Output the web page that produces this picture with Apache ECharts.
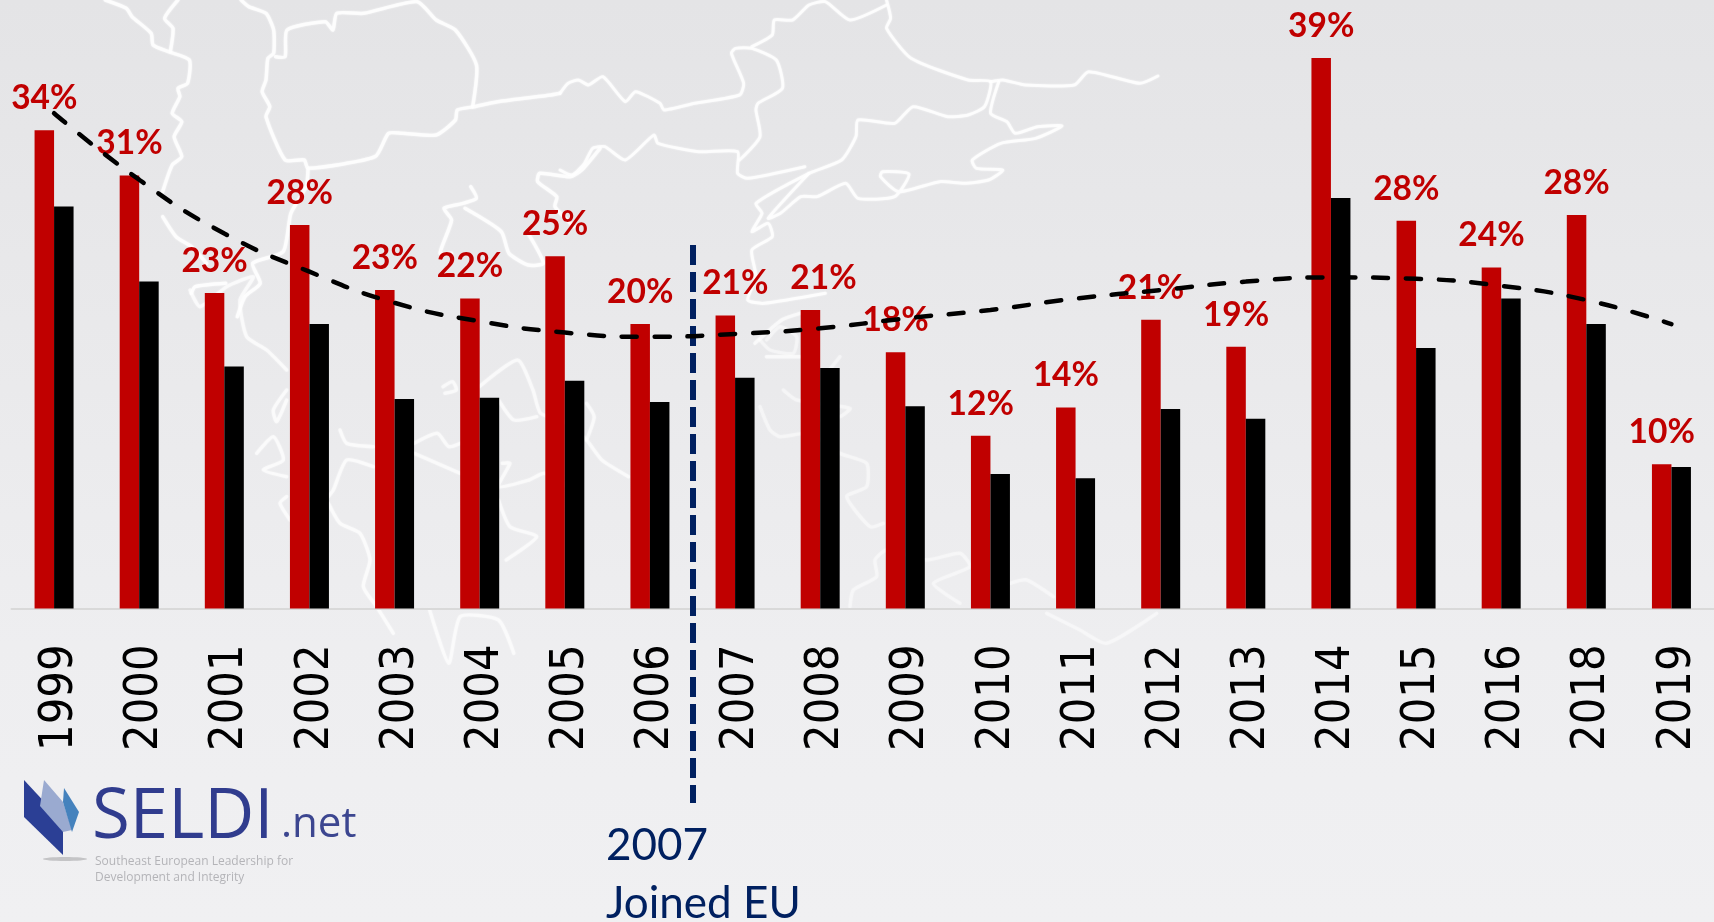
<!DOCTYPE html>
<html>
<head>
<meta charset="utf-8">
<style>html,body{margin:0;padding:0;background:#eeeef0}#c{width:1714px;height:922px}</style>
<script src="https://cdn.jsdelivr.net/npm/echarts@6/dist/echarts.min.js"></script>
</head>
<body>
<div id="c"></div>
<script>
const years = ['1999','2000','2001','2002','2003','2004','2005','2006','2007','2008','2009','2010','2011','2012','2013','2014','2015','2016','2018','2019'];
const redValues = [33.8,30.6,22.3,27.1,22.5,21.9,24.9,20.1,20.7,21.1,18.1,12.2,14.2,20.4,18.5,38.9,27.4,24.1,27.8,10.2];
const redLabels = ['34%','31%','23%','28%','23%','22%','25%','20%','21%','21%','18%','12%','14%','21%','19%','39%','28%','24%','28%','10%'];
const blackValues = [28.4,23.1,17.1,20.1,14.8,14.9,16.1,14.6,16.3,17.0,14.3,9.5,9.2,14.1,13.4,29.0,18.4,21.9,20.1,10.0];
const trendValues = [35.0,30.3,26.5,23.8,21.6,20.3,19.5,19.2,19.4,19.8,20.5,21.1,21.9,22.5,23.1,23.4,23.3,22.8,21.8,20.1];

const z4 = [
 [275,0,330,25,345,50,395,100,400,135,440,155,495,180,490,250,465,265,470,290,450,340,475,365,455,410,475,470,450,495,425,575],
 [425,650,460,710,500,740,540,790],
 [465,0,430,55,452,85,445,155],
 [630,0,650,20,695,40,715,90,715,160,700,175,695,240,685,275,705,320,695,350,745,480,795,480,805,505,980,470,1015,400,1050,400,1140,405,1190,360,1195,330,1240,320,1300,305,1440,285,1463,280],
 [720,170,745,170,750,90,850,65,870,90,880,40,950,40,1090,5,1140,60,1190,90,1245,195,1235,320],
 [805,505,800,560,760,640,740,755,660,790,680,850,640,890,620,950],
 [500,880,510,860,590,850],
 [1568,445,1520,510,1490,530,1410,520,1405,545,1455,590,1450,620,1500,680],
 [1230,560,1245,595,1210,610,1160,625,1180,660,1150,760,1180,760],
 [1215,625,1310,695,1330,760,1380,795,1420,790,1380,700]
];
const z5 = [
 [800,0,810,55,800,85,860,175,1000,240,1055,245,1040,320,1000,345,950,350,865,320,820,370,730,360,725,410,690,480,610,520,480,610,495,640,470,695,510,670,520,710,470,750,480,830,460,900,500,910,650,880],
 [470,140,520,105,525,60,570,60,610,15,650,5,710,60,800,15],
 [1055,245,1085,240,1140,255,1260,255,1295,215,1420,250,1465,228],
 [1075,245,1055,340,1095,365,1115,400,1170,380,1230,378,1165,415,1080,430,1010,480,1020,505,1085,510,1050,540,990,550,930,545,830,575,785,530,790,515,855,522,820,590,730,595,700,550,630,590,590,590,540,640,510,655,610,520],
 [0,280,20,250,45,240,70,255,105,230,160,305,185,275,245,310,255,330,330,310,440,285,450,250,420,160,430,145,470,145,530,180,545,265,485,310,480,330,490,410,440,480],
 [0,510,30,525,60,490,80,445,110,440,160,480,230,405,240,430,340,455,435,455,435,520,460,535,600,500]
];
const z6 = [
 [560,460,680,520],
 [560,430,620,400,650,440,680,430],
 [730,260,830,180,870,270,890,340,960,370,1010,420,1050,480,1120,530],
 [780,300,820,360,880,350],
 [790,490,810,490,780,560,860,540,900,520,960,560],
 [780,600,810,680,880,710,800,780],
 [600,930,650,1090,680,950,780,960,820,1060],
 [1010,310,1030,350,1010,420],
 [1450,130,1520,60,1568,40],
 [1480,170,1568,170],
 [635,260,660,245,670,270,640,280]
];
const z7 = [
 [0,60,30,90,100,100,110,50,60,20,20,60],
 [0,260,30,330,60,350,150,340,240,400,320,430,320,500,260,530,330,620,370,610],
 [70,210,110,240,270,265,240,290,170,300],
 [240,110,200,160],
 [270,860,280,810,350,770,345,720,380,690,500,720,600,700,630,740,520,790,600,850],
 [750,790,800,780,880,830],
 [860,880,960,930,1040,970,1190,880]
];
const z8 = [
 [570,150,600,200,680,140,760,110,720,180,740,290,800,330,860,390],
 [860,450,820,510,830,545,860,480],
 [770,640,820,590,850,660,790,690,860,710],
 [1020,570,1040,610,1120,620],
 [1120,680,1040,660,1000,750,985,770],
 [860,770,840,790,870,840],
 [985,790,1020,850,1080,880,1110,960,1090,1040,1130,1100,1180,1180]
];
function pts(a, ox, oy, kx) {
  const r = [];
  for (let i = 0; i < a.length; i += 2) r.push([ox + a[i] / kx, oy + a[i + 1] / 3]);
  return r;
}
function outline(p, w, op) {
  return { type: 'polyline', z: 0, silent: true,
    shape: { points: p, smooth: 0.2 },
    style: { stroke: '#ffffff', fill: null, lineWidth: w, opacity: op, lineJoin: 'round', lineCap: 'round', shadowBlur: 2, shadowColor: '#ffffff' } };
}
const mapEls = [
  ...z4.map(a => outline(pts(a, 0, 0, 2.613), 3.5, 0.75)),
  ...z5.map(a => outline(pts(a, 560, 0, 2.45), 3, 0.75)),
  ...z6.map(a => outline(pts(a, 200, 300, 2.613), 3.5, 0.5)),
  ...z7.map(a => outline(pts(a, 760, 320, 3), 3.5, 0.35)),
  ...z8.map(a => outline(pts(a, 0, 240, 3), 3.5, 0.55))
];
const logoEls = [
  { type:'ellipse', z:1, silent:true, shape:{cx:65,cy:859,rx:22,ry:2}, style:{fill:'#c4c4c6'} },
  { type:'polygon', z:1, silent:true, shape:{points:[[24,780],[63,822],[63,855],[24,817]]}, style:{fill:'#2b3f95'} },
  { type:'polygon', z:1, silent:true, shape:{points:[[44,780],[63,802],[72,830],[63,832],[40,806]]}, style:{fill:'#9aaad0'} },
  { type:'polygon', z:1, silent:true, shape:{points:[[64,788],[79,812],[72,832],[63,802]]}, style:{fill:'#4582bd'} },
  { type:'text', z:1, silent:true, style:{x:92,y:818,text:'SELDI',fill:'#303c8e',font:'500 69px "Open Sans"',textVerticalAlign:'middle'} },
  { type:'text', z:1, silent:true, style:{x:281,y:825,text:'.net',fill:'#3c4690',font:'500 42px "Open Sans"',textVerticalAlign:'middle'} },
  { type:'text', z:1, silent:true, style:{x:95,y:862,text:'Southeast European Leadership for',fill:'#b4b4b8',font:'12px "Open Sans"',textVerticalAlign:'middle'} },
  { type:'text', z:1, silent:true, style:{x:95,y:878,text:'Development and Integrity',fill:'#b4b4b8',font:'12px "Open Sans"',textVerticalAlign:'middle'} }
];
const euEls = [
  { type:'line', z:3, silent:true, shape:{x1:693,y1:245,x2:693,y2:803}, style:{stroke:'#002060',lineWidth:6,lineDash:[20,7]} },
  { type:'text', z:3, silent:true, style:{x:606,y:846,text:'2007',fill:'#002060',font:'44px Lato',textVerticalAlign:'middle'} },
  { type:'text', z:3, silent:true, style:{x:606,y:904,text:'Joined EU',fill:'#002060',font:'44px Lato',textVerticalAlign:'middle'} }
];

// Two labels sit to the right of their bars in the reference
const labelNudge = { '2007': 10, '2008': 13 };

const chart = echarts.init(document.getElementById('c'), null, { renderer: 'canvas' });
chart.setOption({
  animation: false,
  backgroundColor: { type:'linear', x:0, y:0, x2:0, y2:1, colorStops:[{offset:0,color:'#e4e4e6'},{offset:0.7,color:'#eeeef0'},{offset:1,color:'#f0f0f2'}] },
  grid: { left: 11.5, right: -1.5, top: 0, height: 608.5, containLabel: false },
  xAxis: {
    type: 'category', data: years, boundaryGap: true,
    axisLine: { show: true, lineStyle: { color: '#d9d9d9', width: 2 } },
    axisTick: { show: false },
    axisLabel: { rotate: 90, interval: 0, margin: 36, color: '#000', fontSize: 46.5, verticalAlign: 'top', lineHeight: 12, fontFamily: '"DejaVu Sans Condensed","DejaVu Sans"' }
  },
  yAxis: { type: 'value', min: 0, max: 43, show: false, splitLine: { show: false } },
  graphic: { elements: [...mapEls, ...logoEls, ...euEls] },
  series: [
    { name:'Red', type:'bar', barWidth: 19.5, barGap: '0%', itemStyle:{color:'#c00000'}, z:2,
      data: redValues.map((v, i) => labelNudge[years[i]] ? { value: v, label: { offset: [labelNudge[years[i]], 0] } } : v),
      label:{ show:true, position:'top', distance:15, color:'#c00000', fontFamily:'Lato', fontWeight:'bold', fontSize:33.5,
        formatter: p => redLabels[p.dataIndex] } },
    { name:'Black', type:'bar', data: blackValues, barWidth: 19.5, barGap: '0%', itemStyle:{color:'#000000'}, z:2 },
    { name:'Trend', type:'line', data: trendValues, smooth:true, showSymbol:false, symbol:'none', z:4,
      lineStyle:{ color:'#000', width:4.5, type:[15,17.8], cap:'round' } }
  ]
});
</script>
</body>
</html>
